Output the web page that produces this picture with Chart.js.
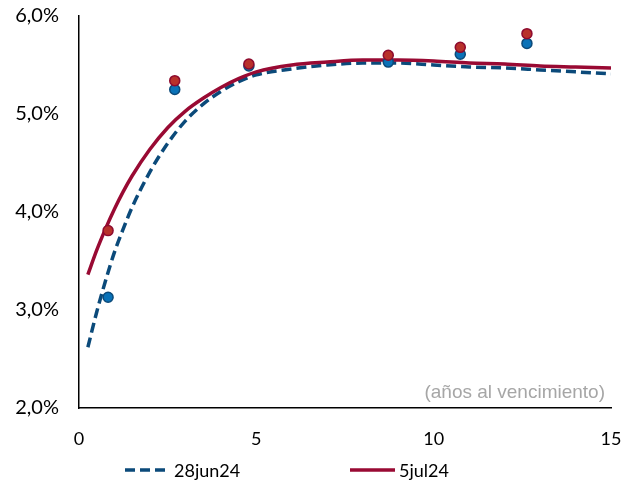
<!DOCTYPE html>
<html>
<head>
<meta charset="utf-8">
<script src="https://cdn.jsdelivr.net/npm/chart.js@4/dist/chart.umd.min.js"></script>
<style>
  html, body { margin: 0; padding: 0; background: #fff; }
  #wrap { position: relative; width: 623px; height: 482px; }
  #legend { position: absolute; top: 459px; left: 0; width: 623px; height: 22px; font-family: Lato, sans-serif; font-size: 18px; color: #000; }
  .item { position: absolute; top: 0; display: flex; align-items: center; height: 22px; }
  .item svg { margin-right: 4px; }
</style>
</head>
<body>
<div id="wrap">
  <canvas id="chart" width="623" height="482"></canvas>
  <div id="legend">
    <div class="item" style="left:125px">
      <svg width="45" height="6"><line x1="0" y1="3" x2="45" y2="3" stroke="#0b4a7a" stroke-width="3.5" stroke-dasharray="10,5"/></svg><span>28jun24</span>
    </div>
    <div class="item" style="left:350px">
      <svg width="45" height="6"><line x1="0" y1="3" x2="45" y2="3" stroke="#990a33" stroke-width="3.5"/></svg><span>5jul24</span>
    </div>
  </div>
</div>
<script>
const curveYears = [0.25, 0.5, 0.75, 1, 1.25, 1.5, 2, 2.5, 3, 3.5, 4, 4.5, 5, 6, 7, 8, 9, 10, 11, 12, 13, 14, 15];
const curveJun = [2.62, 2.98, 3.30, 3.59, 3.83, 4.05, 4.41, 4.70, 4.93, 5.10, 5.23, 5.33, 5.40, 5.46, 5.50, 5.52, 5.52, 5.50, 5.48, 5.47, 5.45, 5.43, 5.41];
const curveJul = [3.36, 3.61, 3.83, 4.03, 4.21, 4.37, 4.64, 4.86, 5.03, 5.16, 5.27, 5.36, 5.43, 5.50, 5.53, 5.55, 5.55, 5.54, 5.52, 5.51, 5.49, 5.48, 5.47];

const bondYears = [0.82, 2.7, 4.79, 8.72, 10.75, 12.63];
const bondJun = [3.13, 5.25, 5.49, 5.53, 5.61, 5.72];
const bondJul = [3.81, 5.34, 5.51, 5.60, 5.68, 5.82];

const xTicks = [0, 5, 10, 15];
const yTicks = [2, 3, 4, 5, 6];
const axisNote = '(años al vencimiento)';

function pairs(xs, ys) {
  return xs.map((x, i) => ({ x: x, y: ys[i] }));
}

const notePlugin = {
  id: 'note',
  afterDraw(chart) {
    const ctx = chart.ctx;
    const area = chart.chartArea;
    ctx.save();
    ctx.font = '19px "Liberation Sans", Arial, sans-serif';
    ctx.fillStyle = '#a6a6a6';
    ctx.textAlign = 'right';
    ctx.textBaseline = 'alphabetic';
    ctx.fillText(axisNote, area.right - 6, area.bottom - 10);
    ctx.restore();
  }
};

new Chart(document.getElementById('chart'), {
  type: 'scatter',
  data: {
    datasets: [
      {
        label: '5jul24 bonos',
        data: pairs(bondYears, bondJul),
        backgroundColor: '#b8312b',
        borderColor: '#8e0a2e',
        borderWidth: 1.5,
        pointRadius: 5,
        showLine: false
      },
      {
        label: '28jun24 bonos',
        data: pairs(bondYears, bondJun),
        backgroundColor: '#0a72b8',
        borderColor: '#0b4a7a',
        borderWidth: 1.5,
        pointRadius: 5,
        showLine: false
      },
      {
        label: '5jul24',
        data: pairs(curveYears, curveJul),
        borderColor: '#990a33',
        borderWidth: 3.5,
        pointRadius: 0,
        showLine: true,
        cubicInterpolationMode: 'monotone'
      },
      {
        label: '28jun24',
        data: pairs(curveYears, curveJun),
        borderColor: '#0b4a7a',
        borderWidth: 3.5,
        borderDash: [10, 5],
        pointRadius: 0,
        showLine: true,
        cubicInterpolationMode: 'monotone'
      }
    ]
  },
  options: {
    responsive: false,
    animation: false,
    layout: { padding: { top: 16, right: 12, bottom: 0, left: 0 } },
    plugins: {
      legend: { display: false },
      tooltip: { enabled: false }
    },
    scales: {
      x: {
        type: 'linear',
        min: 0,
        max: 15,
        afterBuildTicks: axis => { axis.ticks = xTicks.map(v => ({ value: v })); },
        afterFit: axis => {
          axis.height = 74;
          axis.paddingLeft = 0;
          axis.paddingRight = 0;
        },
        grid: { display: false, drawTicks: false },
        border: { display: true, color: '#000', width: 1.5 },
        ticks: {
          padding: 20,
          color: '#000',
          font: { family: 'Lato', size: 18 }
        }
      },
      y: {
        type: 'linear',
        min: 2,
        max: 6,
        afterBuildTicks: axis => { axis.ticks = yTicks.map(v => ({ value: v })); },
        afterFit: axis => {
          axis.width = 79;
          axis.paddingTop = 0;
          axis.paddingBottom = 0;
        },
        grid: { display: false, drawTicks: false },
        border: { display: true, color: '#000', width: 1.5 },
        ticks: {
          padding: 20,
          color: '#000',
          font: { family: 'Lato', size: 20 },
          callback: v => v.toFixed(1).replace('.', ',') + '%'
        }
      }
    }
  },
  plugins: [notePlugin]
});
</script>
</body>
</html>
